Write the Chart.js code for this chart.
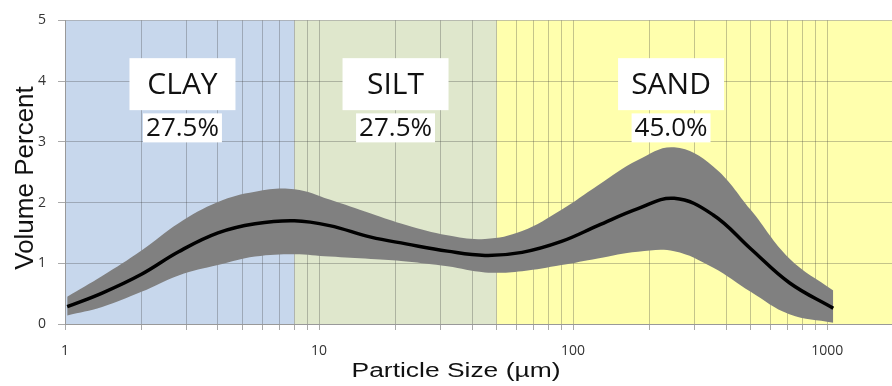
<!DOCTYPE html>
<html>
<head>
<meta charset="utf-8">
<script src="https://cdn.jsdelivr.net/npm/chart.js@4.4.1/dist/chart.umd.min.js"></script>
<style>
  html, body { margin: 0; padding: 0; background: #fff; }
</style>
</head>
<body>
<canvas id="psdChart" width="892" height="386"></canvas>
<script>
// particle size (µm) and volume percent
const sizes = [1.02, 1.4, 2, 2.8, 4, 5.6, 8, 11, 16, 22, 32, 45, 63, 90, 125, 180, 250, 355, 500, 710, 1057];
const meanVals = [0.285, 0.51, 0.82, 1.19, 1.50, 1.65, 1.70, 1.62, 1.43, 1.32, 1.20, 1.13, 1.18, 1.36, 1.62, 1.90, 2.07, 1.80, 1.24, 0.68, 0.26];
const upperVals = [0.45, 0.79, 1.21, 1.66, 2.01, 2.18, 2.22, 2.05, 1.82, 1.63, 1.46, 1.40, 1.53, 1.88, 2.28, 2.70, 2.91, 2.60, 1.88, 1.08, 0.55];
const lowerVals = [0.14, 0.28, 0.53, 0.80, 0.97, 1.11, 1.15, 1.11, 1.07, 1.03, 0.95, 0.85, 0.87, 0.97, 1.08, 1.19, 1.20, 0.93, 0.53, 0.16, 0.02];

const classNames = ['CLAY', 'SILT', 'SAND'];
const classPercents = ['27.5%', '27.5%', '45.0%'];
const classBounds = [1, 8, 50, 1800];
const classLabelX = [2.9, 20, 243];

const xGridValues = [1, 2, 3, 4, 5, 6, 7, 8, 9, 10, 20, 30, 40, 50, 60, 70, 80, 90, 100, 200, 300, 400, 500, 600, 700, 800, 900, 1000];
const xLabelValues = [1, 10, 100, 1000];
const yTicks = [0, 1, 2, 3, 4, 5];

const zoneColors = ['#c7d7ec', '#dfe7cc', '#ffffad'];
const gridColor = 'rgba(60,60,60,0.3)';

function toPoints(vals) {
    return sizes.map((s, i) => ({ x: s, y: vals[i] }));
}

const zonesPlugin = {
    id: 'zones',
    beforeDraw(chart) {
        const { ctx, chartArea: a, scales: { x } } = chart;
        ctx.save();
        for (let i = 0; i < classNames.length; i++) {
            const x0 = x.getPixelForValue(classBounds[i]);
            const x1 = Math.min(x.getPixelForValue(classBounds[i + 1]), a.right);
            ctx.fillStyle = zoneColors[i];
            ctx.fillRect(x0, a.top, x1 - x0, a.bottom - a.top);
        }
        ctx.restore();
    },
    afterDatasetsDraw(chart) {
        const { ctx, scales: { x, y } } = chart;
        ctx.save();
        ctx.textAlign = 'center';
        ctx.textBaseline = 'middle';
        for (let i = 0; i < classNames.length; i++) {
            const cx = x.getPixelForValue(classLabelX[i]);
            const ny = y.getPixelForValue(3.95);
            const py = y.getPixelForValue(3.23);
            ctx.fillStyle = '#fff';
            ctx.fillRect(cx - 53, ny - 26, 106, 52);
            ctx.font = '30px "Open Sans"';
            ctx.fillStyle = '#111';
            ctx.fillText(classNames[i], cx, ny + 1);

            ctx.font = '26px "Open Sans"';
            const w = ctx.measureText(classPercents[i]).width + 6;
            ctx.fillStyle = '#fff';
            ctx.fillRect(cx - w / 2, py - 14.5, w, 29);
            ctx.fillStyle = '#111';
            ctx.fillText(classPercents[i], cx, py + 1);
        }
        ctx.restore();
    },
    afterDraw(chart) {
        const { ctx } = chart;
        ctx.save();
        ctx.fillStyle = '#111';
        ctx.textAlign = 'center';
        ctx.textBaseline = 'alphabetic';
        // x title
        ctx.save();
        ctx.translate(456, 377);
        ctx.scale(1.32, 1);
        ctx.font = '20px "Liberation Sans"';
        ctx.fillText('Particle Size (µm)', 0, 0);
        ctx.restore();
        // y title
        ctx.save();
        ctx.translate(33, 178);
        ctx.rotate(-Math.PI / 2);
        ctx.font = '26px "Liberation Sans"';
        ctx.fillText('Volume Percent', 0, 0);
        ctx.restore();
        ctx.restore();
    }
};

const ctx = document.getElementById('psdChart').getContext('2d');
const psdChart = new Chart(ctx, {
    type: 'line',
    data: {
        datasets: [
            {
                label: 'upper',
                data: toPoints(upperVals),
                borderColor: 'rgba(0,0,0,0)',
                backgroundColor: '#808080',
                pointRadius: 0,
                fill: '+1',
                tension: 0.4,
                order: 2
            }, {
                label: 'lower',
                data: toPoints(lowerVals),
                borderColor: 'rgba(0,0,0,0)',
                pointRadius: 0,
                fill: false,
                tension: 0.4,
                order: 2
            }, {
                label: 'mean',
                data: toPoints(meanVals),
                borderColor: '#000',
                borderWidth: 3.5,
                pointRadius: 0,
                fill: false,
                tension: 0.4,
                order: 0
            }
        ]
    },
    options: {
        responsive: false,
        animation: false,
        devicePixelRatio: 1,
        layout: { padding: { top: 20, left: 0, right: 0, bottom: 0 } },
        plugins: {
            legend: { display: false },
            tooltip: { enabled: false }
        },
        scales: {
            x: {
                type: 'logarithmic',
                min: 1,
                max: 1800,
                afterBuildTicks: s => { s.ticks = xGridValues.map(v => ({ value: v })); },
                afterFit: s => { s.height = 62; },
                ticks: {
                    autoSkip: false,
                    maxRotation: 0,
                    padding: 13,
                    color: '#333',
                    font: { family: 'Open Sans', size: 14 },
                    callback: v => xLabelValues.includes(v) ? String(v) : ''
                },
                grid: { color: gridColor, tickColor: '#aaa', tickLength: 6 },
                border: { color: '#999' }
            },
            y: {
                min: 0,
                max: 5,
                afterBuildTicks: s => { s.ticks = yTicks.map(v => ({ value: v })); },
                afterFit: s => { s.width = 65; },
                ticks: {
                    padding: 12,
                    color: '#333',
                    font: { family: 'Open Sans', size: 14 }
                },
                grid: { color: gridColor, tickColor: '#aaa', tickLength: 7 },
                border: { color: '#999' }
            }
        }
    },
    plugins: [zonesPlugin]
});
</script>
</body>
</html>
